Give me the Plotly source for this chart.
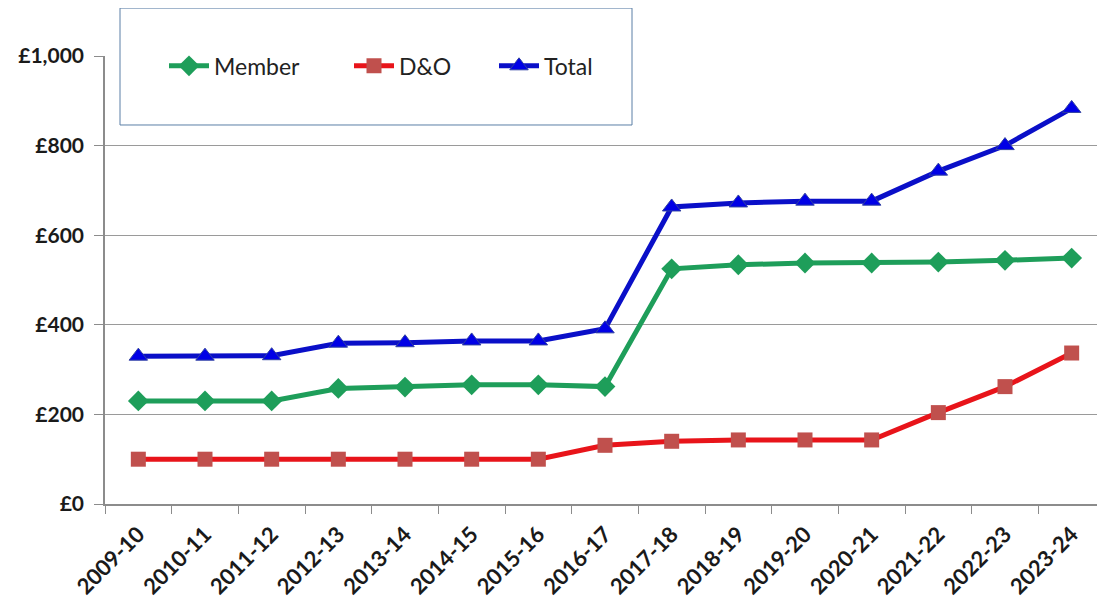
import plotly.graph_objects as go

categories = ["2009-10", "2010-11", "2011-12", "2012-13", "2013-14", "2014-15",
              "2015-16", "2016-17", "2017-18", "2018-19", "2019-20", "2020-21",
              "2021-22", "2022-23", "2023-24"]
member = [230, 230, 230, 258, 261, 266, 266, 262, 525, 534, 538, 538, 540, 544, 549]
dando = [100, 100, 100, 100, 100, 100, 100, 131, 140, 143, 143, 143, 204, 262, 337]
total = [330, 330, 331, 359, 360, 364, 364, 391, 663, 672, 676, 676, 743, 800, 883]
y_tick_values = [0, 200, 400, 600, 800, 1000]
y_tick_labels = ["£0", "£200", "£400", "£600", "£800", "£1,000"]

FONT = "Lato"
LEG_FONT = dict(family=FONT, size=23, color="#222222")

fig = go.Figure()
fig.add_trace(go.Scatter(
    x=categories, y=member, name="Member", mode="lines+markers", legend="legend",
    line=dict(color="#1E9E5A", width=5),
    marker=dict(symbol="diamond", size=16, color="#1E9E5A"),
))
fig.add_trace(go.Scatter(
    x=categories, y=dando, name="D&O", mode="lines+markers", legend="legend2",
    line=dict(color="#E8141A", width=5),
    marker=dict(symbol="square", size=15, color="#C0504D"),
))
fig.add_trace(go.Scatter(
    x=categories, y=total, name="Total", mode="lines+markers", legend="legend3",
    line=dict(color="#0A0FC8", width=5),
    marker=dict(symbol="triangle-up", size=16, color="#0000E6",
                line=dict(color="#3040A0", width=1)),
))

def leg(x):
    return dict(orientation="h", x=x, xanchor="left", y=0.978, yanchor="middle",
                bgcolor="rgba(0,0,0,0)", borderwidth=0, font=LEG_FONT, itemwidth=40)

fig.update_layout(
    width=1105, height=604,
    margin=dict(l=97, r=8, t=48, b=108),
    paper_bgcolor="white", plot_bgcolor="white",
    font=dict(family=FONT, color="#1a1a1a"),
    showlegend=True,
    legend=leg(0.059),
    legend2=leg(0.244),
    legend3=leg(0.389),
    shapes=[dict(
        type="rect", xref="paper", yref="paper",
        x0=0.015, x1=0.527, y0=0.846, y1=1.107,
        line=dict(color="#5B7FA6", width=1), fillcolor="white", layer="above",
    )],
)

fig.update_xaxes(
    type="category", range=[-0.5, 14.5], automargin=False,
    showline=True, linecolor="#8c8c8c", linewidth=1.5,
    ticks="outside", tickson="boundaries", ticklen=8, tickcolor="#8c8c8c",
    tickangle=-45, showgrid=False, ticklabelstandoff=7,
    tickfont=dict(family=FONT, size=22, color="#1a1a1a", weight="bold"),
)
fig.update_yaxes(
    range=[0, 1000], tickmode="array", tickvals=y_tick_values, ticktext=y_tick_labels,
    automargin=False,
    showline=True, linecolor="#8c8c8c", linewidth=1.5,
    ticks="outside", ticklen=9, tickcolor="#8c8c8c", ticklabelstandoff=6,
    showgrid=True, gridcolor="#9a9a9a", gridwidth=1, zeroline=False,
    tickfont=dict(family=FONT, size=21, color="#1a1a1a", weight="bold"),
)

fig.write_html("out.html")
